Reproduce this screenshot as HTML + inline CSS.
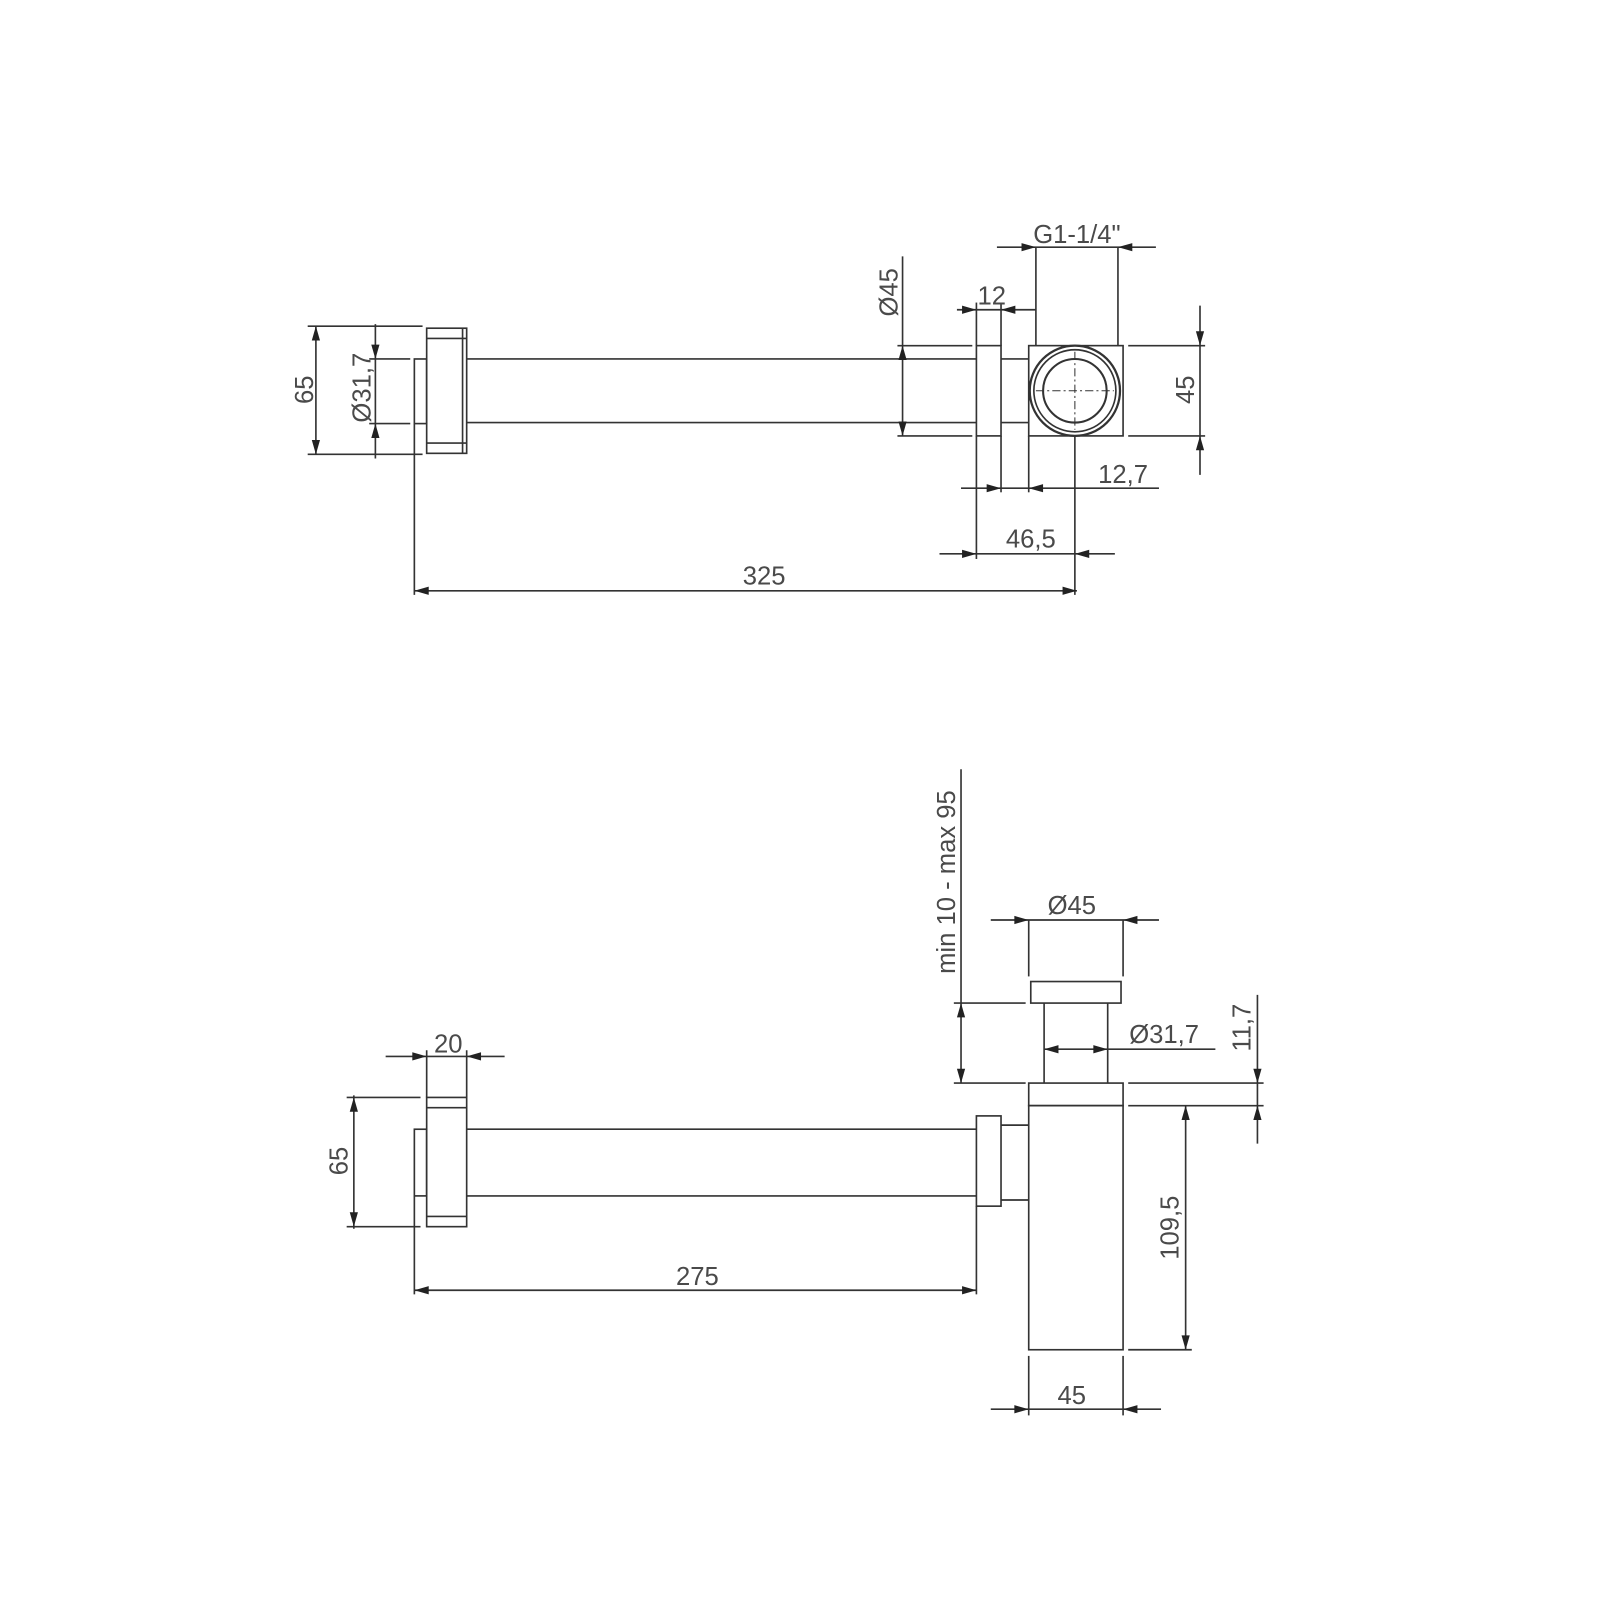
<!DOCTYPE html>
<html><head><meta charset="utf-8"><style>html,body{margin:0;padding:0;background:#fff}svg{display:block}</style></head>
<body>
<svg width="1600" height="1600" viewBox="0 0 1560 1560" xmlns="http://www.w3.org/2000/svg">
<rect width="1560" height="1560" fill="#fff"/>
<g fill="none" stroke="#333" stroke-width="1.6">
<!-- TOP VIEW -->
<rect x="416" y="320" width="39" height="122"/>
<line x1="416" y1="330" x2="455" y2="330"/><line x1="416" y1="432" x2="455" y2="432"/>
<line x1="451" y1="320" x2="451" y2="442"/>
<rect x="404" y="350" width="12" height="63"/>
<line x1="455" y1="350" x2="952" y2="350"/><line x1="455" y1="412" x2="952" y2="412"/>
<rect x="952" y="337" width="24" height="88"/>
<line x1="976" y1="350" x2="1003" y2="350"/><line x1="976" y1="412" x2="1003" y2="412"/>
<rect x="1003" y="337" width="92" height="88"/>
<circle cx="1048" cy="381" r="44" stroke-width="2.2"/>
<circle cx="1048" cy="381" r="40"/>
<circle cx="1048" cy="381" r="31" stroke-width="2"/>
<line x1="1010" y1="381" x2="1086" y2="381" stroke-dasharray="8,3,2,3" stroke-width="1"/>
<line x1="1048" y1="343" x2="1048" y2="419" stroke-dasharray="8,3,2,3" stroke-width="1"/>
<!-- dims top -->
<line x1="300" y1="318" x2="412" y2="318"/><line x1="300" y1="443" x2="412" y2="443"/>
<line x1="308" y1="318" x2="308" y2="443"/>
<line x1="360" y1="350" x2="400" y2="350"/><line x1="360" y1="413" x2="400" y2="413"/>
<line x1="366" y1="316" x2="366" y2="447"/>
<line x1="880" y1="250" x2="880" y2="425"/>
<line x1="875" y1="337" x2="948" y2="337"/><line x1="875" y1="425" x2="948" y2="425"/>
<line x1="952" y1="295" x2="952" y2="337"/><line x1="976" y1="295" x2="976" y2="337"/>
<line x1="933" y1="302" x2="1010" y2="302"/>
<line x1="1010" y1="241" x2="1010" y2="337"/><line x1="1090" y1="241" x2="1090" y2="337"/>
<line x1="972" y1="241" x2="1127" y2="241"/>
<line x1="1100" y1="337" x2="1175" y2="337"/><line x1="1100" y1="425" x2="1175" y2="425"/>
<line x1="1170" y1="298" x2="1170" y2="463"/>
<line x1="976" y1="425" x2="976" y2="480"/><line x1="1003" y1="425" x2="1003" y2="480"/>
<line x1="937" y1="476" x2="1130" y2="476"/>
<line x1="952" y1="425" x2="952" y2="545"/><line x1="1048" y1="425" x2="1048" y2="580"/>
<line x1="916" y1="540" x2="1087" y2="540"/>
<line x1="404" y1="413" x2="404" y2="580"/>
<line x1="404" y1="576" x2="1050" y2="576"/>
<!-- BOTTOM VIEW -->
<rect x="416" y="1070" width="39" height="126"/>
<line x1="416" y1="1080" x2="455" y2="1080"/><line x1="416" y1="1186" x2="455" y2="1186"/>
<rect x="404" y="1101" width="12" height="65"/>
<line x1="455" y1="1101" x2="952" y2="1101"/><line x1="455" y1="1166" x2="952" y2="1166"/>
<rect x="952" y="1088" width="24" height="88"/>
<line x1="976" y1="1097" x2="1003" y2="1097"/><line x1="976" y1="1170" x2="1003" y2="1170"/>
<rect x="1003" y="1078" width="92" height="238"/>
<rect x="1003" y="1056" width="92" height="22"/>
<line x1="1018" y1="978" x2="1018" y2="1056"/><line x1="1080" y1="978" x2="1080" y2="1056"/>
<rect x="1005" y="957" width="88" height="21"/>
<line x1="1003" y1="897" x2="1003" y2="952"/><line x1="1095" y1="897" x2="1095" y2="952"/>
<line x1="966" y1="897" x2="1130" y2="897"/>
<line x1="937" y1="750" x2="937" y2="1056"/>
<line x1="930" y1="978" x2="1000" y2="978"/><line x1="930" y1="1056" x2="1000" y2="1056"/>
<line x1="1018" y1="1023" x2="1185" y2="1023"/>
<line x1="1100" y1="1056" x2="1232" y2="1056"/><line x1="1100" y1="1078" x2="1232" y2="1078"/>
<line x1="1226" y1="970" x2="1226" y2="1115"/>
<line x1="1156" y1="1078" x2="1156" y2="1316"/>
<line x1="1100" y1="1316" x2="1162" y2="1316"/>
<line x1="1003" y1="1322" x2="1003" y2="1380"/><line x1="1095" y1="1322" x2="1095" y2="1380"/>
<line x1="966" y1="1374" x2="1132" y2="1374"/>
<line x1="404" y1="1166" x2="404" y2="1262"/><line x1="952" y1="1176" x2="952" y2="1262"/>
<line x1="404" y1="1258" x2="952" y2="1258"/>
<line x1="338" y1="1070" x2="410" y2="1070"/><line x1="338" y1="1196" x2="410" y2="1196"/>
<line x1="345" y1="1068" x2="345" y2="1198"/>
<line x1="416" y1="1024" x2="416" y2="1070"/><line x1="455" y1="1024" x2="455" y2="1070"/>
<line x1="376" y1="1030" x2="492" y2="1030"/>
</g>
<g fill="#222">
<!-- arrows: up (tip x,y): x,y x-4,y+14 x+4,y+14 ; down: x,y x-4,y-14 x+4,y-14 ; right: x,y x-14,y-4 x-14,y+4 ; left: x,y x+14,y-4 x+14,y+4 -->
<polygon points="308,318 304,332 312,332"/><polygon points="308,443 304,429 312,429"/>
<polygon points="366,350 362,336 370,336"/><polygon points="366,413 362,427 370,427"/>
<polygon points="880,337 876,351 884,351"/><polygon points="880,425 876,411 884,411"/>
<polygon points="952,302 938,298 938,306"/><polygon points="976,302 990,298 990,306"/>
<polygon points="1010,241 996,237 996,245"/><polygon points="1090,241 1104,237 1104,245"/>
<polygon points="1170,337 1166,323 1174,323"/><polygon points="1170,425 1166,439 1174,439"/>
<polygon points="976,476 962,472 962,480"/><polygon points="1003,476 1017,472 1017,480"/>
<polygon points="952,540 938,536 938,544"/><polygon points="1048,540 1062,536 1062,544"/>
<polygon points="404,576 418,572 418,580"/><polygon points="1050,576 1036,572 1036,580"/>
<polygon points="937,978 933,992 941,992"/><polygon points="937,1056 933,1042 941,1042"/>
<polygon points="1003,897 989,893 989,901"/><polygon points="1095,897 1109,893 1109,901"/>
<polygon points="1018,1023 1032,1019 1032,1027"/><polygon points="1080,1023 1066,1019 1066,1027"/>
<polygon points="1226,1056 1222,1042 1230,1042"/><polygon points="1226,1078 1222,1092 1230,1092"/>
<polygon points="1156,1078 1152,1092 1160,1092"/><polygon points="1156,1316 1152,1302 1160,1302"/>
<polygon points="1003,1374 989,1370 989,1378"/><polygon points="1095,1374 1109,1370 1109,1378"/>
<polygon points="404,1258 418,1254 418,1262"/><polygon points="952,1258 938,1254 938,1262"/>
<polygon points="345,1070 341,1084 349,1084"/><polygon points="345,1196 341,1182 349,1182"/>
<polygon points="416,1030 402,1026 402,1034"/><polygon points="455,1030 469,1026 469,1034"/>
</g>
<g font-family="Liberation Sans, sans-serif" font-size="25" fill="#4a4a4a" text-anchor="middle">
<text x="296" y="380" transform="rotate(-90 296 380)" dy="9">65</text>
<text x="352" y="378" transform="rotate(-90 352 378)" dy="9">Ø31,7</text>
<text x="866" y="285" transform="rotate(-90 866 285)" dy="9">Ø45</text>
<text x="967" y="297">12</text>
<text x="1050" y="237">G1-1/4"</text>
<text x="1155" y="380" transform="rotate(-90 1155 380)" dy="9">45</text>
<text x="1095" y="471">12,7</text>
<text x="1005" y="534">46,5</text>
<text x="745" y="570">325</text>
<text x="922" y="860" transform="rotate(-90 922 860)" dy="9">min 10 - max 95</text>
<text x="1045" y="891">Ø45</text>
<text x="1135" y="1017">Ø31,7</text>
<text x="1210" y="1002" transform="rotate(-90 1210 1002)" dy="9">11,7</text>
<text x="1140" y="1197" transform="rotate(-90 1140 1197)" dy="9">109,5</text>
<text x="1045" y="1369">45</text>
<text x="680" y="1253">275</text>
<text x="330" y="1132" transform="rotate(-90 330 1132)" dy="9">65</text>
<text x="437" y="1026">20</text>
</g>
</svg>
</body></html>
